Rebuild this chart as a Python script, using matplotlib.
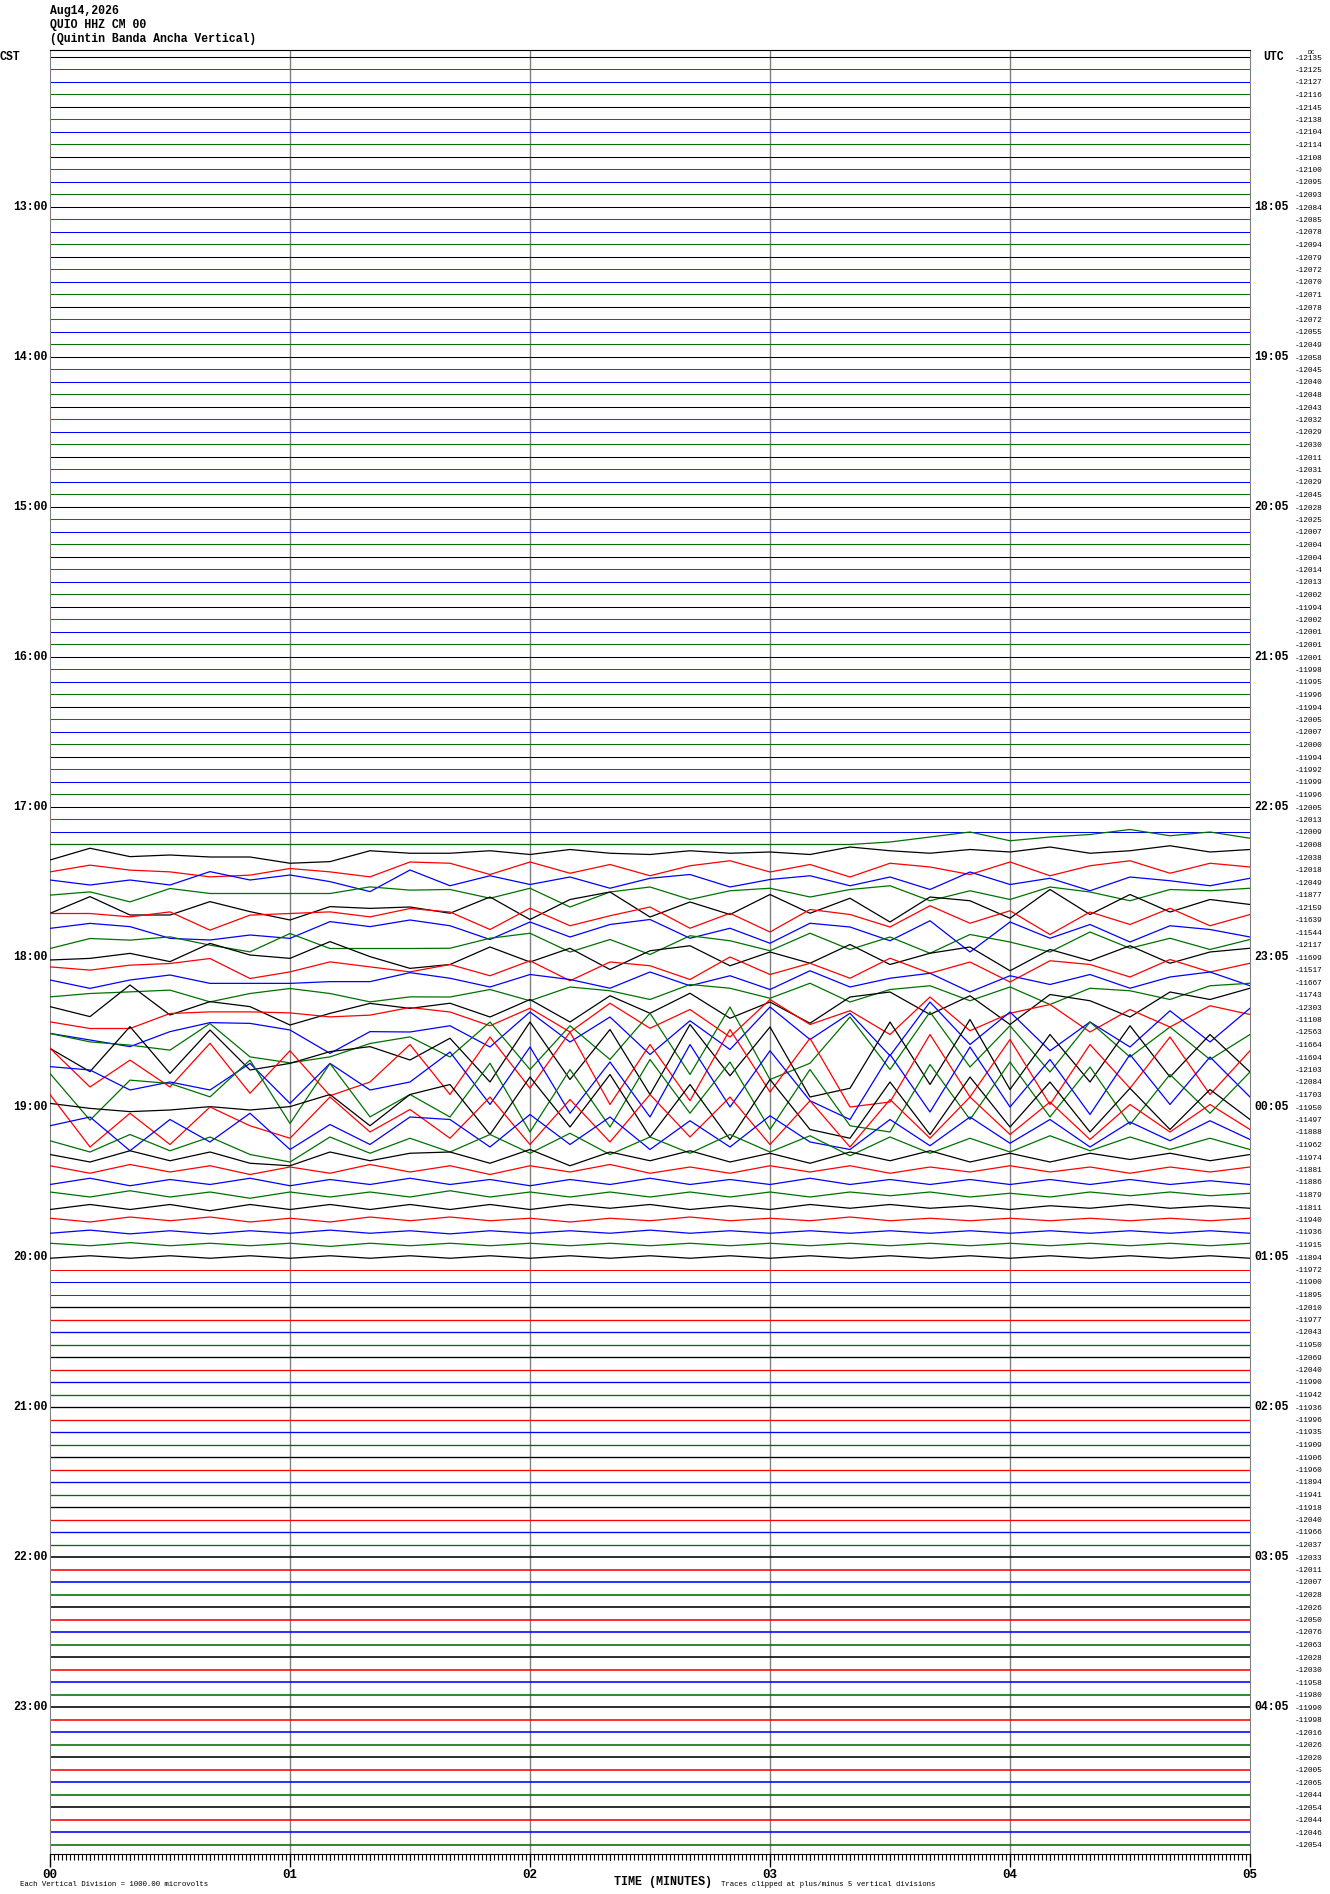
import matplotlib
matplotlib.use("Agg")
import matplotlib.pyplot as plt
import numpy as np

W, H = 1330, 1894

# header
title_lines = ["Aug14,2026", "QUIO HHZ CM 00", "(Quintin Banda Ancha Vertical)"]

# hour labels (trace index -> label)
cst_hours = ["13:00", "14:00", "15:00", "16:00", "17:00", "18:00",
             "19:00", "20:00", "21:00", "22:00", "23:00"]
utc_hours = ["18:05", "19:05", "20:05", "21:05", "22:05", "23:05",
             "00:05", "01:05", "02:05", "03:05", "04:05"]

# right column offsets, one per 5-minute trace
offsets = [-12135, -12125, -12127, -12116, -12145, -12138, -12104, -12114, -12108, -12100,
           -12095, -12093, -12084, -12085, -12078, -12094, -12079, -12072, -12070, -12071,
           -12078, -12072, -12055, -12049, -12058, -12045, -12040, -12048, -12043, -12032,
           -12029, -12030, -12011, -12031, -12029, -12045, -12028, -12025, -12007, -12004,
           -12004, -12014, -12013, -12002, -11994, -12002, -12001, -12001, -12001, -11998,
           -11995, -11996, -11994, -12005, -12007, -12000, -11994, -11992, -11999, -11996,
           -12005, -12013, -12009, -12008, -12038, -12018, -12049, -11877, -12159, -11639,
           -11544, -12117, -11699, -11517, -11667, -11743, -12303, -11108, -12563, -11664,
           -11694, -12103, -12084, -11703, -11950, -11497, -11888, -11962, -11974, -11881,
           -11886, -11879, -11811, -11940, -11936, -11915, -11894, -11972, -11900, -11895,
           -12010, -11977, -12043, -11950, -12069, -12040, -11990, -11942, -11936, -11996,
           -11935, -11909, -11906, -11960, -11894, -11941, -11918, -12040, -11966, -12037,
           -12033, -12011, -12007, -12028, -12026, -12050, -12076, -12063, -12028, -12030,
           -11958, -11980, -11990, -11998, -12016, -12026, -12020, -12005, -12065, -12044,
           -12054, -12044, -12046, -12054]

# earthquake traces: deflection in trace spacings, sampled every 10 s (0..300 s)
quake = {
    63: [0]*21 + [0.2, 0.6, 1.0, 0.3, 0.6, 0.8, 1.2, 0.7, 1.0, 0.5],
    64: [-0.24, 0.7, 0.03, 0.16, 0, 0, -0.5, -0.37, 0.5, 0.3,
         0.3, 0.5, 0.2, 0.6, 0.3, 0.2, 0.5, 0.3, 0.4, 0.2, 0.8, 0.5, 0.3, 0.6, 0.4, 0.8, 0.3, 0.5, 0.9, 0.4, 0.6],
    65: [-0.19, 0.35, -0.05, -0.19, -0.59, -0.45, 0.08, -0.19, -0.59, 0.6,
         0.5, -0.4, 0.6, -0.3, 0.4, -0.5, 0.3, 0.7, -0.2, 0.4, -0.6, 0.5, 0.2, -0.4, 0.6, -0.5, 0.3, 0.7, -0.3, 0.5, 0.2],
    66: [0.16, -0.24, 0.16, -0.24, 0.83, 0.16, 0.56, 0.03, -0.77, 0.96,
         -0.3, 0.5, -0.2, 0.4, -0.5, 0.3, 0.6, -0.4, 0.2, 0.5, -0.3, 0.4, -0.6, 0.8, -0.2, 0.3, -0.7, 0.4, 0.1, -0.3, 0.3],
    67: [-0.05, 0.21, -0.59, 0.48, 0.08, 0.08, 0.08, 0.08, 0.61, 0.35,
         0.4, -0.3, 0.5, -1.0, 0.2, 0.6, -0.4, 0.3, 0.5, -0.2, 0.4, 0.7, -0.5, 0.3, -0.4, 0.6, 0.2, -0.5, 0.4, 0.3, 0.5],
    68: [-0.51, 0.83, -0.64, -0.64, 0.43, -0.37, -1.04, 0.03, -0.11, 0,
         -0.5, 0.8, -1.0, 0.6, 1.2, -0.8, 0.4, -0.6, 1.0, -0.5, 0.7, -1.2, 0.8, 0.5, -0.9, 1.4, -0.6, 1.0, -0.4, 0.6, 0.2],
    69: [0.48, 0.48, 0.21, 0.61, -0.85, 0.35, 0.48, 0.61, 0.21, 0.88,
         0.6, -0.8, 0.9, -0.5, 0.3, 1.0, -0.7, 0.5, -1.0, 0.8, 0.4, -0.6, 1.1, -0.3, 0.7, -1.2, 0.6, -0.4, 0.9, -0.5, 0.4],
    70: [0.29, 0.69, 0.43, -0.51, -0.64, -0.24, -0.51, 0.83, 0.43, 0.96,
         0.5, -0.6, 0.8, -0.4, 0.6, 1.0, -0.5, 0.3, -0.9, 0.7, 0.4, -0.7, 0.9, -1.6, 0.8, -0.5, 0.6, -0.8, 0.5, 0.2, -0.4],
    71: [-0.32, 0.48, 0.35, 0.61, -0.05, -0.59, 0.88, -0.32, -0.32, -0.32,
         -0.3, 0.5, 0.9, -0.6, 0.4, -0.8, 0.7, 0.3, -0.5, 0.9, -0.4, 0.6, -0.7, 0.8, 0.2, -0.6, 1.0, -0.3, 0.5, -0.4, 0.4],
    72: [-0.24, -0.11, 0.29, -0.37, 1.09, 0.16, -0.11, 1.23, 0.03, -0.91,
         -0.6, 0.8, -0.4, 0.7, -1.0, 0.5, 0.9, -0.7, 0.4, -0.5, 1.0, -0.6, 0.3, 0.8, -1.1, 0.6, -0.3, 0.9, -0.5, 0.4, 0.7],
    73: [0.21, -0.05, 0.35, 0.48, 0.88, -0.72, -0.19, 0.61, 0.21, -0.19,
         0.4, -0.5, 0.7, -0.9, 0.6, 0.3, -0.8, 1.0, -0.4, 0.5, -0.7, 0.9, -0.3, 0.6, -1.0, 0.7, 0.4, -0.6, 0.8, -0.2, 0.5],
    74: [0.16, -0.51, 0.16, 0.56, -0.11, -0.11, -0.11, 0.03, 0.03, 0.75,
         0.3, -0.4, 0.6, 0.2, -0.5, 0.8, -0.3, 0.5, -0.6, 0.9, -0.4, 0.3, 0.7, -0.8, 0.5, -0.2, 0.6, -0.5, 0.4, 0.8, -0.3],
    75: [-0.19, 0.08, 0.21, 0.35, -0.59, 0.08, 0.48, 0.08, -0.59, -0.19,
         -0.2, 0.4, -0.5, 0.6, 0.3, -0.4, 0.8, 0.5, -0.3, 0.9, -0.6, 0.4, 0.7, -0.5, 0.6, -0.8, 0.5, 0.3, -0.4, 0.7, 0.9],
    76: [0.03, -0.77, 1.76, -0.64, 0.43, 0.03, -1.44, -0.51, 0.29, -0.11,
         0.3, -0.8, 0.6, -1.2, 0.9, -0.5, 1.1, -0.9, 0.4, -1.3, 0.8, 1.2, -0.6, 0.9, -1.4, 1.0, 0.5, -0.8, 1.2, 0.6, 1.5],
    77: [-0.19, -0.72, -0.72, 0.48, 0.61, 0.61, 0.53, 0.21, 0.35, 0.96,
         0.6, -0.5, 0.9, -1.0, 1.3, -0.7, 0.8, -1.4, 1.6, -0.4, 0.7, -1.2, 1.8, -0.9, 0.5, 1.2, -1.0, 0.8, -0.6, 1.1, 0.4],
    78: [-0.11, -0.64, -1.17, 0.03, 0.75, 0.69, 0.16, -1.71, 0.03, 0,
         0.5, -1.2, 1.6, -0.8, 1.2, -1.8, 0.9, -1.4, 2.0, -0.6, 1.5, -1.9, 2.4, -1.0, 1.6, -1.5, 0.8, -1.2, 1.7, -0.8, 1.9],
    79: [0.88, 0.21, -0.05, -0.45, 1.68, -0.99, -1.47, -0.99, 0.08, 0.61,
         -1.0, 1.8, -2.0, 1.5, -1.2, 2.5, -2.4, 3.0, -2.8, -1.5, 2.2, -2.0, 2.6, -1.8, 1.5, -2.2, 1.8, -1.0, 1.4, -1.2, 0.8],
    80: [0.69, -1.17, 2.43, -1.31, 2.16, -1.04, -0.51, 0.43, 0.83, -0.24,
         1.5, -2.0, 2.8, -1.8, 2.2, -3.0, 2.6, -1.5, 2.4, -3.2, -2.5, 2.8, -2.2, 3.0, -2.6, 1.8, -2.0, 2.5, -1.6, 1.8, -1.2],
    81: [1.7, -1.4, 0.75, -1.4, 2.1, -1.9, 1.5, -2.1, -1.0, 2.0,
         -2.0, 2.6, -1.5, 3.0, -2.8, 2.0, -2.5, 3.2, -1.8, 2.5, -3.0, -2.6, 2.8, -2.2, 2.4, -2.8, 2.0, -1.5, 2.6, -2.0, 1.5],
    82: [1.23, 0.96, -0.64, 0, -0.64, 1.49, -1.71, 1.49, -0.64, 0,
         2.4, -1.8, 2.8, -2.5, 1.6, -2.8, 3.0, -2.0, 2.5, -1.5, -3.0, 2.2, -2.4, 2.8, -2.0, 1.8, -2.6, 2.2, -1.8, 2.0, -1.2],
    83: [1.68, -2.05, 1.15, 0.88, -0.19, 2.75, -2.32, 2.48, -1.79, 0,
         -1.8, 2.5, -3.0, 2.0, -2.6, 2.8, -1.5, 2.6, -2.8, 2.0, -2.5, -3.0, 2.4, -2.0, 2.6, -1.8, 2.2, -2.4, 1.6, -1.5, 1.8],
    84: [0.29, -0.11, -0.37, -0.24, 0.03, -0.24, 0.03, 1.0, -1.5, 1.0,
         1.8, -2.2, 2.4, -1.6, 2.6, -2.4, 1.8, -2.6, 2.2, -1.8, -2.5, 2.0, -2.2, 2.4, -1.6, 2.0, -2.0, 1.5, -1.8, 1.4, -1.0],
    85: [2.0, -2.2, 0.5, -2.0, 1.0, -0.5, -1.5, 1.8, -1.0, 0.8,
         -1.5, 1.8, -2.0, 1.6, -1.8, 2.0, -1.4, 1.8, -2.0, 1.5, -2.2, 1.6, -1.5, 1.8, -1.2, 1.4, -1.6, 1.2, -1.0, 1.2, -0.8],
    86: [0.5, 1.2, -1.5, 1.0, -0.8, 1.5, -1.4, 0.6, -1.0, 1.2,
         1.0, -1.2, 1.4, -1.0, 1.2, -1.4, 0.9, -1.2, 1.3, -0.8, -1.4, 1.0, -1.1, 1.2, -0.9, 1.0, -1.2, 0.8, -0.7, 0.9, -0.6],
    87: [0.3, -0.6, 0.8, -0.5, 0.6, -0.8, -1.4, 0.6, -0.7, 0.5,
         -0.6, 0.8, -0.7, 0.9, -0.8, 0.6, -0.7, 0.8, -0.6, 0.7, -0.9, 0.6, -0.7, 0.5, -0.6, 0.7, -0.5, 0.6, -0.4, 0.5, -0.4],
    88: [0.2, -0.4, 0.5, -0.3, 0.4, -0.5, -0.7, 0.4, -0.3, 0.3,
         0.4, -0.5, 0.6, -0.7, 0.4, -0.3, 0.5, -0.4, 0.3, -0.5, 0.4, -0.3, 0.5, -0.4, 0.3, -0.4, 0.3, -0.2, 0.3, -0.3, 0.2],
    89: [0.3, -0.3, 0.4, -0.2, 0.3, -0.4, 0.2, -0.3, 0.4, -0.2, 0.3, -0.4, 0.3, -0.2, 0.4, -0.3,
         0.2, -0.3, 0.3, -0.2, 0.3, -0.3, 0.2, -0.2, 0.3, -0.2, 0.2, -0.3, 0.2, -0.2, 0.2],
    90: [-0.2, 0.3, -0.3, 0.2, -0.2, 0.3, -0.3, 0.2, -0.2, 0.3, -0.2, 0.2, -0.3, 0.2, -0.2, 0.3,
         -0.2, 0.2, -0.2, 0.3, -0.2, 0.2, -0.2, 0.2, -0.2, 0.2, -0.2, 0.2, -0.2, 0.1, -0.2],
    91: [0.2, -0.2, 0.3, -0.2, 0.2, -0.3, 0.2, -0.2, 0.2, -0.2, 0.3, -0.2, 0.2, -0.2, 0.2, -0.2,
         0.2, -0.2, 0.2, -0.2, 0.2, -0.1, 0.2, -0.2, 0.1, -0.2, 0.2, -0.1, 0.2, -0.1, 0.1],
    92: [-0.2, 0.2, -0.2, 0.2, -0.3, 0.2, -0.2, 0.2, -0.2, 0.2, -0.2, 0.2, -0.2, 0.2, -0.1, 0.2,
         -0.2, 0.1, -0.2, 0.2, -0.1, 0.2, -0.1, 0.1, -0.2, 0.1, -0.1, 0.2, -0.1, 0.1, -0.1],
    93: [0.1, -0.2, 0.2, -0.1, 0.2, -0.2, 0.1, -0.2, 0.2, -0.1, 0.2, -0.1, 0.1, -0.2, 0.1, -0.1,
         0.2, -0.1, 0.1, -0.1, 0.2, -0.1, 0.1, -0.1, 0.1, -0.1, 0.1, -0.1, 0.1, -0.1, 0.1],
    94: [-0.1, 0.15, -0.15, 0.1, -0.15, 0.1, -0.1, 0.15, -0.1, 0.1, -0.15, 0.1, -0.1, 0.1, -0.1, 0.15,
         -0.1, 0.1, -0.1, 0.1, -0.1, 0.1, -0.1, 0.1, -0.1, 0.1, -0.1, 0.1, -0.1, 0.1, -0.1],
    95: [0.1, -0.1, 0.15, -0.1, 0.1, -0.1, 0.1, -0.15, 0.1, -0.1, 0.1, -0.1, 0.1, -0.1, 0.1, -0.1,
         0.1, -0.1, 0.1, -0.1, 0.1, -0.1, 0.1, -0.1, 0.1, -0.1, 0.1, -0.1, 0.1, -0.1, 0.1],
    96: [-0.1, 0.1, -0.1, 0.1, -0.1, 0.1, -0.1, 0.1, -0.1, 0.1, -0.1, 0.1, -0.1, 0.1, -0.1, 0.1,
         -0.1, 0.1, -0.1, 0.1, -0.1, 0.1, -0.1, 0.1, -0.1, 0.1, -0.1, 0.1, -0.1, 0.1, -0.1],
}

# traces from here on carry visible background noise (drawn as a heavier line)
noisy_from = 100

colors = ["#000000", "#ff0000", "#0000ff", "#007000"]
mono = ["Liberation Mono", "DejaVu Sans Mono"]

n_traces = len(offsets)
sp = 12.5  # px per trace
y0 = 57    # px of first trace

fig = plt.figure(figsize=(W / 100, H / 100), dpi=100)
left, right, top, bottom = 50, 1250, 50, 1854
ax = fig.add_axes([left / W, 1 - bottom / H, (right - left) / W, (bottom - top) / H])
ax.set_xlim(0, 5)
ax.set_ylim(-(bottom - y0) / sp, (y0 - top) / sp)

for m in range(1, 5):
    ax.axvline(m, color="#808080", lw=1.0, zorder=1)

for i in range(n_traces):
    c = colors[i % 4]
    if i in quake:
        v = np.clip(np.array(quake[i], dtype=float), -5, 5)
        t = np.linspace(0, 5, len(v))
        ax.plot(t, -i + v, color=c, lw=0.9, zorder=3)
    else:
        lw = 0.75
        if i >= noisy_from:
            lw = 0.95 if i < 120 else 1.15
        ax.plot([0, 5], [-i, -i], color=c, lw=lw, zorder=2)

for s in ["left", "right"]:
    ax.spines[s].set_color("#808080")
ax.spines["top"].set_color("black")
ax.spines["bottom"].set_color("black")
ax.set_yticks([])
ax.set_xticks(range(6))
ax.set_xticklabels(["00", "01", "02", "03", "04", "05"], fontfamily=mono,
                   fontweight="bold", fontsize=9)
ax.set_xticks(np.arange(0, 5.001, 1 / 60), minor=True)
ax.tick_params(axis="x", which="major", length=9, width=1, direction="out", pad=2)
ax.tick_params(axis="x", which="minor", length=4, width=0.8, direction="out")
for tt in np.arange(10 / 60, 5, 10 / 60):
    ax.plot([tt, tt], [ax.get_ylim()[0], ax.get_ylim()[0] - 0.5], color="black",
            lw=0.8, clip_on=False)


def ftext(x, y, s, **kw):
    fig.text(x / W, 1 - y / H, s, **kw)


for k, s in enumerate(title_lines):
    ftext(50, 11 + 14 * k, s, fontfamily=mono, fontweight="bold", fontsize=8.3, va="center")

ftext(0, 57, "CST", fontfamily=mono, fontweight="bold", fontsize=8.3, va="center")
ftext(1263, 57, "UTC", fontfamily=mono, fontweight="bold", fontsize=8.3, va="center")
ftext(1307, 52, "DC", fontfamily=mono, fontsize=4.5, va="center")

for k in range(len(cst_hours)):
    yy = y0 + sp * 12 * (k + 1)
    ftext(48, yy, cst_hours[k], fontfamily=mono, fontweight="bold", fontsize=8.3,
          va="center", ha="right")
    ftext(1254, yy, utc_hours[k], fontfamily=mono, fontweight="bold", fontsize=8.3,
          va="center", ha="left")

for i, o in enumerate(offsets):
    ftext(1295, y0 + sp * i + 1, str(o), fontfamily=mono, fontsize=5.6, va="center")

ftext(20, 1884, "Each Vertical Division = 1000.00 microvolts", fontfamily=mono,
      fontsize=5.3, va="center")
ftext(663, 1882, "TIME (MINUTES)", fontfamily=mono, fontweight="bold", fontsize=8.5,
      va="center", ha="center")
ftext(721, 1884, "Traces clipped at plus/minus 5 vertical divisions", fontfamily=mono,
      fontsize=5.3, va="center")

fig.savefig("out.png", dpi=100)
